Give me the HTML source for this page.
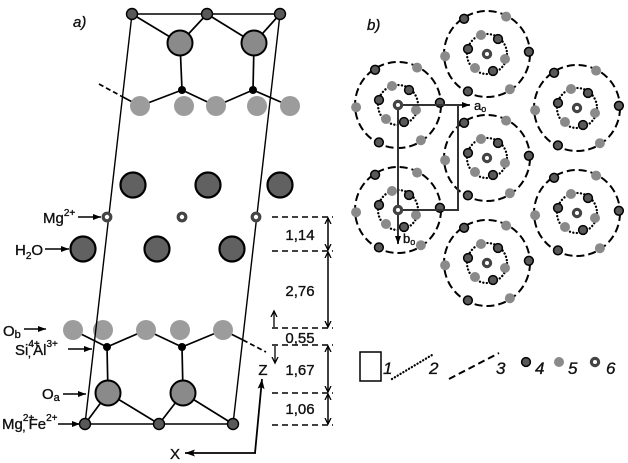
<!DOCTYPE html>
<html><head><meta charset="utf-8">
<style>
html,body{margin:0;padding:0;background:#fff;}
svg{display:block;}
text{font-family:"Liberation Sans",Arial,sans-serif;fill:#111;stroke:#111;stroke-width:0.35;}
</style></head>
<body>
<svg width="628" height="463" viewBox="0 0 628 463" xmlns="http://www.w3.org/2000/svg">
<defs>
<marker id="ah" markerWidth="9" markerHeight="8" refX="8" refY="4" orient="auto" markerUnits="userSpaceOnUse"><path d="M0,1 L8,4 L0,7 Z" fill="#000"/></marker>
<marker id="ab" markerWidth="12" markerHeight="10" refX="10" refY="5" orient="auto" markerUnits="userSpaceOnUse"><path d="M0,1.5 L10,5 L0,8.5 L2,5 Z" fill="#000"/></marker>
<marker id="av" markerWidth="8" markerHeight="8" refX="6" refY="4" orient="auto-start-reverse" markerUnits="userSpaceOnUse"><path d="M0,1 L6,4 L0,7" fill="none" stroke="#000" stroke-width="1.3"/></marker>
<g id="dk"><circle r="4.4" fill="#595959" stroke="#000" stroke-width="1.5"/></g>
<g id="gy"><circle r="5" fill="#8a8a8a"/></g>
<g id="cl">
<circle r="43" fill="none" stroke="#000" stroke-width="2" stroke-dasharray="8 4"/>
<circle r="20" fill="none" stroke="#000" stroke-width="2.3" stroke-dasharray="0.1 3.4" stroke-linecap="round"/>
<use href="#dk" x="41.9" y="-2.2"/><use href="#dk" x="-19.1" y="37.4"/><use href="#dk" x="-22.9" y="-35.2"/>
<use href="#gy" x="22.9" y="35.2"/><use href="#gy" x="-41.9" y="2.2"/><use href="#gy" x="19.1" y="-37.4"/>
<use href="#gy" x="-6" y="-19"/><use href="#gy" x="18" y="5"/><use href="#gy" x="-12" y="14"/>
<use href="#dk" x="11" y="-15"/><use href="#dk" x="-19" y="-5"/><use href="#dk" x="6" y="17"/>
<circle r="3.6" fill="#fff" stroke="#444" stroke-width="3.2"/>
</g>
</defs>

<!-- ===== Panel a ===== -->
<text x="73" y="27" font-size="15" font-style="italic">a)</text>

<!-- top layer bonds -->
<g stroke="#000" stroke-width="1.7" fill="none">
<line x1="132" y1="14" x2="280" y2="14" stroke-width="1.4"/>
<line x1="132" y1="14" x2="180" y2="43"/>
<line x1="207" y1="14" x2="180" y2="43"/>
<line x1="207" y1="14" x2="254" y2="43"/>
<line x1="280" y1="14" x2="254" y2="43"/>
<line x1="180" y1="43" x2="182" y2="90"/>
<line x1="254" y1="43" x2="253" y2="90"/>
<line x1="182" y1="90" x2="140" y2="106"/>
<line x1="182" y1="90" x2="216" y2="106"/>
<line x1="253" y1="90" x2="216" y2="106"/>
<line x1="253" y1="90" x2="290" y2="106"/>
<line x1="121" y1="96" x2="140" y2="106"/>
<line x1="99" y1="84" x2="121" y2="96" stroke-dasharray="5 3"/>
</g>
<!-- bottom layer bonds -->
<g stroke="#000" stroke-width="1.7" fill="none">
<line x1="73" y1="330" x2="107" y2="347"/>
<line x1="107" y1="347" x2="146" y2="330"/>
<line x1="146" y1="330" x2="182" y2="347"/>
<line x1="182" y1="347" x2="223" y2="330"/>
<line x1="223" y1="330" x2="243" y2="340"/>
<line x1="243" y1="340" x2="266" y2="352" stroke-dasharray="5 3"/>
<line x1="107" y1="347" x2="108" y2="393"/>
<line x1="182" y1="347" x2="183" y2="393"/>
<line x1="108" y1="393" x2="85" y2="424"/>
<line x1="108" y1="393" x2="159" y2="424"/>
<line x1="183" y1="393" x2="159" y2="424"/>
<line x1="183" y1="393" x2="233" y2="424"/>
<line x1="85" y1="424" x2="233" y2="424" stroke-width="1.4"/>
</g>

<!-- Ob atoms -->
<g fill="#9c9c9c">
<circle cx="140" cy="106" r="10"/><circle cx="184" cy="106" r="10"/><circle cx="216" cy="106" r="10"/><circle cx="257" cy="106" r="10"/><circle cx="290" cy="106" r="10"/>
<circle cx="73" cy="330" r="10"/><circle cx="103" cy="330" r="10"/><circle cx="146" cy="330" r="10"/><circle cx="180" cy="330" r="10"/><circle cx="223" cy="330" r="10"/>
</g>

<!-- unit cell lines -->
<line x1="132" y1="14" x2="85" y2="424" stroke="#000" stroke-width="1.4"/>
<line x1="280" y1="14" x2="233" y2="424" stroke="#000" stroke-width="1.4"/>

<!-- Oa big atoms -->
<g fill="#8a8a8a" stroke="#000" stroke-width="2">
<circle cx="180" cy="43" r="12.5"/><circle cx="254" cy="43" r="12.5"/>
<circle cx="108" cy="393" r="12.5"/><circle cx="183" cy="393" r="12.5"/>
</g>
<!-- Si atoms -->
<g fill="#000">
<circle cx="182" cy="90" r="4"/><circle cx="253" cy="90" r="4"/>
<circle cx="107" cy="347" r="4"/><circle cx="182" cy="347" r="4"/>
</g>
<!-- Mg octahedral atoms -->
<g fill="#595959" stroke="#000" stroke-width="1.4">
<circle cx="132" cy="14" r="5.5"/><circle cx="207" cy="14" r="5.5"/><circle cx="280" cy="14" r="5.5"/>
<circle cx="85" cy="424" r="5.5"/><circle cx="159" cy="424" r="5.5"/><circle cx="233" cy="424" r="5.5"/>
</g>
<!-- interlayer -->
<g fill="#616161" stroke="#000" stroke-width="2.2">
<circle cx="133" cy="185" r="12.5"/><circle cx="208" cy="185" r="12.5"/><circle cx="280" cy="185" r="12.5"/>
<circle cx="83" cy="249" r="12.5"/><circle cx="157" cy="249" r="12.5"/><circle cx="232" cy="249" r="12.5"/>
</g>
<g fill="#fff" stroke="#444" stroke-width="3.2">
<circle cx="107" cy="217" r="3.8"/><circle cx="182" cy="217" r="3.8"/><circle cx="256" cy="217" r="3.8"/>
</g>

<!-- left labels -->
<g font-size="15">
<text x="43" y="223">Mg<tspan font-size="10" dy="-7">2+</tspan></text>
<text x="15" y="255">H<tspan font-size="10" dy="4">2</tspan><tspan dy="-4">O</tspan></text>
<text x="3" y="336">O<tspan font-size="11" dy="2">b</tspan></text>
<text x="15" y="355">Si<tspan font-size="10" dy="-8">4+</tspan><tspan font-size="12" dx="-12" dy="10">,</tspan><tspan dx="2" dy="-2">Al</tspan><tspan font-size="10" dy="-8">3+</tspan></text>
<text x="42" y="399">O<tspan font-size="11" dy="2">a</tspan></text>
<text x="2" y="429">Mg<tspan font-size="10" dy="-8">2+</tspan><tspan font-size="12" dx="-12" dy="10">,</tspan><tspan dx="3" dy="-2">Fe</tspan><tspan font-size="10" dy="-8">2+</tspan></text>
</g>
<g stroke="#000" stroke-width="1.5" marker-end="url(#ah)">
<line x1="78" y1="217" x2="101" y2="217"/>
<line x1="45" y1="249" x2="69" y2="249"/>
<line x1="24" y1="329" x2="46" y2="329"/>
<line x1="68" y1="349" x2="92" y2="349"/>
<line x1="63" y1="394" x2="86" y2="394"/>
<line x1="58" y1="424" x2="80" y2="424"/>
</g>

<!-- dimension lines -->
<g stroke="#000" stroke-width="1.5" stroke-dasharray="6 4">
<line x1="272" y1="217" x2="333" y2="217"/>
<line x1="272" y1="251" x2="333" y2="251"/>
<line x1="272" y1="328" x2="333" y2="328"/>
<line x1="272" y1="345" x2="333" y2="345"/>
<line x1="272" y1="393" x2="333" y2="393"/>
<line x1="272" y1="425" x2="333" y2="425"/>
</g>
<g stroke="#000" stroke-width="1.5" marker-start="url(#av)" marker-end="url(#av)">
<line x1="328" y1="218" x2="328" y2="250"/>
<line x1="328" y1="252" x2="328" y2="327"/>
<line x1="328" y1="346" x2="328" y2="392"/>
<line x1="328" y1="394" x2="328" y2="424"/>
</g>
<g stroke="#000" stroke-width="1.3" marker-end="url(#av)">
<line x1="274" y1="327" x2="274" y2="311"/>
<line x1="275" y1="346" x2="275" y2="363"/>
</g>
<g font-size="15" text-anchor="middle">
<text x="300" y="240">1,14</text>
<text x="300" y="296">2,76</text>
<text x="300" y="343">0,55</text>
<text x="300" y="375">1,67</text>
<text x="300" y="414">1,06</text>
<text x="263" y="375">Z</text>
<text x="175" y="459">X</text>
</g>
<line x1="255" y1="453" x2="262" y2="379" stroke="#000" stroke-width="1.8" marker-end="url(#ab)"/>
<line x1="256" y1="453" x2="185" y2="453" stroke="#000" stroke-width="1.8" marker-end="url(#ab)"/>

<!-- ===== Panel b ===== -->
<text x="367" y="30" font-size="15" font-style="italic">b)</text>
<use href="#cl" x="487" y="54"/>
<use href="#cl" x="398" y="105"/>
<use href="#cl" x="577" y="108"/>
<use href="#cl" x="487" y="158"/>
<use href="#cl" x="398" y="210"/>
<use href="#cl" x="577" y="213"/>
<use href="#cl" x="487" y="263"/>

<g stroke="#333" stroke-width="2" fill="none">
<polyline points="458,105 458,210 398,210"/>
</g>
<line x1="398" y1="105" x2="470" y2="105" stroke="#333" stroke-width="2" marker-end="url(#ah)"/>
<line x1="398" y1="105" x2="398" y2="244" stroke="#333" stroke-width="2" marker-end="url(#ah)"/>
<circle cx="398" cy="105" r="3.6" fill="#fff" stroke="#444" stroke-width="3.2"/>
<circle cx="398" cy="210" r="3.6" fill="#fff" stroke="#444" stroke-width="3.2"/>
<text x="474" y="110" font-size="13">a<tspan font-size="9" dy="2">o</tspan></text>
<text x="403" y="243" font-size="13">b<tspan font-size="9" dy="2">o</tspan></text>

<!-- legend -->
<rect x="360" y="352" width="21" height="29" fill="none" stroke="#000" stroke-width="1.5"/>
<line x1="392" y1="379" x2="432" y2="355" stroke="#000" stroke-width="2.3" stroke-dasharray="0.1 3.2" stroke-linecap="round"/>
<line x1="449" y1="379" x2="499" y2="353" stroke="#000" stroke-width="2" stroke-dasharray="7 4"/>
<circle cx="526" cy="362" r="4.4" fill="#595959" stroke="#000" stroke-width="1.5"/>
<circle cx="559" cy="362" r="5" fill="#8a8a8a"/>
<circle cx="595" cy="362" r="3.6" fill="#fff" stroke="#444" stroke-width="3.2"/>
<g font-size="17" font-style="italic">
<text x="383" y="374">1</text>
<text x="429" y="374">2</text>
<text x="496" y="374">3</text>
<text x="535" y="374">4</text>
<text x="568" y="374">5</text>
<text x="606" y="374">6</text>
</g>
</svg>
</body></html>
